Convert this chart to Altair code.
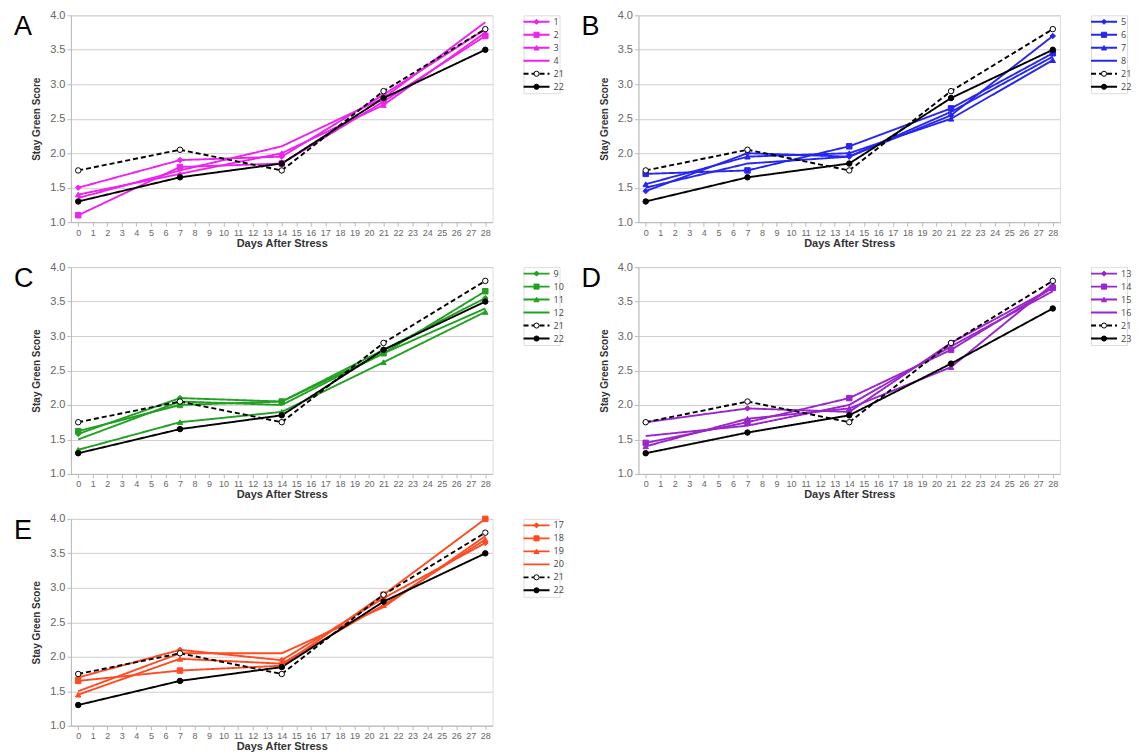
import altair as alt
import pandas as pd

days = [0, 7, 14, 21, 28]

# control series (shared by every panel)
s21 = [1.75, 2.05, 1.75, 2.90, 3.80]
s22 = [1.30, 1.65, 1.85, 2.80, 3.50]
s23 = [1.30, 1.60, 1.85, 2.60, 3.40]

# Panel A (magenta)
A_names = ["1", "2", "3", "4", "21", "22"]
A_vals = [
    [1.50, 1.90, 1.95, 2.85, 3.80],
    [1.10, 1.80, 1.85, 2.75, 3.70],
    [1.40, 1.70, 2.00, 2.70, 3.75],
    [1.35, 1.75, 2.10, 2.80, 3.90],
    s21, s22,
]
# Panel B (blue)
B_names = ["5", "6", "7", "8", "21", "22"]
B_vals = [
    [1.45, 2.00, 1.95, 2.55, 3.70],
    [1.70, 1.75, 2.10, 2.65, 3.45],
    [1.55, 1.95, 2.00, 2.50, 3.35],
    [1.50, 1.85, 1.95, 2.60, 3.40],
    s21, s22,
]
# Panel C (green)
C_names = ["9", "10", "11", "12", "21", "22"]
C_vals = [
    [1.58, 2.10, 2.05, 2.80, 3.55],
    [1.62, 2.00, 2.05, 2.75, 3.65],
    [1.35, 1.75, 1.90, 2.62, 3.35],
    [1.50, 2.05, 2.00, 2.75, 3.40],
    s21, s22,
]
# Panel D (purple)
D_names = ["13", "14", "15", "16", "21", "23"]
D_vals = [
    [1.75, 1.95, 1.90, 2.90, 3.70],
    [1.45, 1.75, 2.10, 2.80, 3.70],
    [1.40, 1.80, 1.95, 2.55, 3.75],
    [1.55, 1.70, 2.00, 2.85, 3.65],
    s21, s23,
]
# Panel E (orange-red)
E_names = ["17", "18", "19", "20", "21", "22"]
E_vals = [
    [1.70, 2.10, 1.95, 2.85, 3.65],
    [1.65, 1.80, 1.87, 2.90, 4.00],
    [1.45, 1.97, 1.90, 2.75, 3.70],
    [1.50, 2.05, 2.05, 2.72, 3.75],
    s21, s22,
]

panel_letters = ["A", "B", "C", "D", "E"]
panel_colors = ["#ee22ee", "#2626f0", "#22a022", "#9a25cc", "#ff4a22"]
x_ticks = list(range(29))
y_ticks = [1.0, 1.5, 2.0, 2.5, 3.0, 3.5, 4.0]

FONT = "Open Sans"
INDEP = dict(color="independent", fill="independent", stroke="independent",
             shape="independent", strokeDash="independent")


def make_cell(letter, names, vals, color):
    rows = []
    for n, vs in zip(names, vals):
        for d, v in zip(days, vs):
            rows.append({"day": d, "score": v, "series": n})
    df = pd.DataFrame(rows)
    no_marker = names[3]

    col_scale = alt.Scale(domain=names, range=[color] * 4 + ["#000000", "#000000"])
    fill_scale = alt.Scale(domain=names, range=[color] * 4 + ["#ffffff", "#000000"])
    dash_scale = alt.Scale(domain=names, range=[[1, 0]] * 4 + [[5, 3], [1, 0]])
    shape_scale = alt.Scale(domain=names, range=["diamond", "square", "triangle-up",
                                                  "circle", "circle", "circle"])

    x = alt.X("day:Q", scale=alt.Scale(domain=[-0.5, 28.5], nice=False, zero=False),
              axis=alt.Axis(values=x_ticks, title="Days After Stress", grid=False,
                            labelFontSize=9, labelColor="#666", tickColor="#bbb",
                            tickSize=4, domainColor="#bbb", titleFontSize=11,
                            titleFontWeight="bold", titleColor="#333", titlePadding=0,
                            labelPadding=2, labelFlush=False, labelOverlap=False))
    y = alt.Y("score:Q", scale=alt.Scale(domain=[1, 4], nice=False, zero=False),
              axis=alt.Axis(values=y_ticks, format=".1f",
                            title="Stay Green Score", grid=True, gridColor="#cfcfcf",
                            labelFontSize=11, labelColor="#666", tickColor="#bbb",
                            tickSize=4, domainColor="#bbb", titleFontSize=10,
                            titleFontWeight="bold", titleColor="#333", titlePadding=8,
                            labelOverlap=False, labelFlush=False))

    base = alt.Chart(df)
    lines = base.mark_line(strokeWidth=1.9).encode(
        x=x, y=y,
        color=alt.Color("series:N", scale=col_scale, legend=None),
        strokeDash=alt.StrokeDash("series:N", scale=dash_scale, legend=None),
        order="day:Q",
    )
    pts = base.transform_filter(alt.datum.series != no_marker).mark_point(
        filled=True, strokeWidth=1, opacity=1, size=30
    ).encode(
        x=x, y=y,
        fill=alt.Fill("series:N", scale=fill_scale, legend=None),
        stroke=alt.Stroke("series:N", scale=col_scale, legend=None),
        shape=alt.Shape("series:N", scale=shape_scale, legend=None),
    )
    lab = alt.Chart(pd.DataFrame({"t": [letter]})).mark_text(
        fontSize=27, font="Liberation Sans", align="left", baseline="middle", color="#000"
    ).encode(x=alt.value(-57), y=alt.value(12), text="t:N")

    plot = alt.layer(lines, pts, lab).properties(width=422, height=207)

    ldf = pd.DataFrame({"series": names})
    ly = alt.Y("series:N", sort=names, axis=None, scale=alt.Scale(type="point", padding=0.5))
    lbase = alt.Chart(ldf)
    lrule = lbase.mark_rule(strokeWidth=1.9).encode(
        x=alt.value(0), x2=alt.value(26), y=ly,
        color=alt.Color("series:N", scale=col_scale, legend=None),
        strokeDash=alt.StrokeDash("series:N", scale=dash_scale, legend=None),
    )
    lpts = lbase.transform_filter(alt.datum.series != no_marker).mark_point(
        filled=True, strokeWidth=1, opacity=1, size=26
    ).encode(
        x=alt.value(13), y=ly,
        fill=alt.Fill("series:N", scale=fill_scale, legend=None),
        stroke=alt.Stroke("series:N", scale=col_scale, legend=None),
        shape=alt.Shape("series:N", scale=shape_scale, legend=None),
    )
    ltxt = lbase.mark_text(align="left", baseline="middle", fontSize=9, font=FONT,
                           color="#444").encode(
        x=alt.value(30), y=ly, text="series:N")
    legend = alt.layer(lrule, lpts, ltxt).properties(width=36, height=78)

    return alt.hconcat(plot, legend, spacing=28).resolve_scale(y="independent", x="independent")


all_names = [A_names, B_names, C_names, D_names, E_names]
all_vals = [A_vals, B_vals, C_vals, D_vals, E_vals]
cells = [make_cell(l, n, v, c) for l, n, v, c in
         zip(panel_letters, all_names, all_vals, panel_colors)]

row1 = alt.hconcat(cells[0], cells[1], spacing=16).resolve_scale(**INDEP)
row2 = alt.hconcat(cells[2], cells[3], spacing=16).resolve_scale(**INDEP)
row3 = alt.hconcat(cells[4], spacing=16).resolve_scale(**INDEP)

chart = alt.vconcat(row1, row2, row3, spacing=11).resolve_scale(**INDEP).configure_view(
    stroke=None
).configure_axis(labelFont=FONT, titleFont=FONT).configure(
    padding={"left": 5, "top": 0, "right": 0, "bottom": 0}, background="white"
)

chart.save("out.html", embed_options={"renderer": "svg", "actions": False})
